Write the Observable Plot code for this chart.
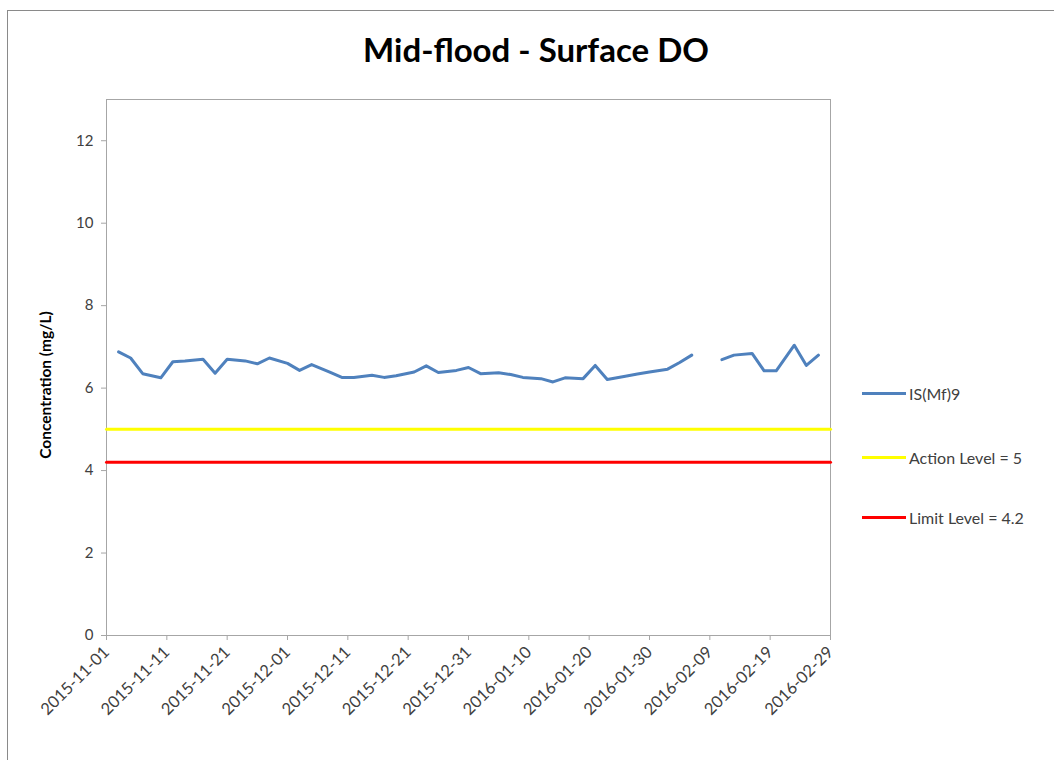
<!DOCTYPE html>
<html>
<head>
<meta charset="utf-8">
<script src="https://cdn.jsdelivr.net/npm/d3@7"></script>
<script src="https://cdn.jsdelivr.net/npm/@observablehq/plot@0.6"></script>
<style>
  html, body { margin: 0; padding: 0; background: #fff; }
  #wrap { position: relative; width: 1054px; height: 760px; overflow: hidden; font-family: Lato, "Open Sans", sans-serif; }
  #frame { position: absolute; left: 7px; top: 10px; width: 1060px; height: 800px; border: 1px solid #8a8a8a; box-sizing: border-box; }
  #title { position: absolute; left: 0; width: 1072px; top: 29px; text-align: center; font-weight: bold; font-size: 33px; color: #000; }
  #legend { position: absolute; left: 862px; top: 384px; font-size: 16px; color: #404040; }
  .item { position: absolute; left: 0; white-space: nowrap; display: flex; align-items: center; }
  .sw { width: 44px; height: 3px; margin-right: 3px; }
  #chart { position: absolute; left: 0; top: 0; }
</style>
</head>
<body>
<div id="wrap">
  <div id="frame"></div>
  <div id="chart"></div>
  <div id="title">Mid-flood - Surface DO</div>
  <div id="legend"></div>
</div>
<script>
// Sampling dates (IS(Mf)9) and surface DO values (mg/L); null = no data
const dates = [
  "2015-11-03","2015-11-05","2015-11-07","2015-11-10","2015-11-12","2015-11-14",
  "2015-11-17","2015-11-19","2015-11-21","2015-11-24","2015-11-26","2015-11-28",
  "2015-12-01","2015-12-03","2015-12-05","2015-12-08","2015-12-10","2015-12-12",
  "2015-12-15","2015-12-17","2015-12-19","2015-12-22","2015-12-24","2015-12-26",
  "2015-12-29","2015-12-31","2016-01-02","2016-01-05","2016-01-07","2016-01-09",
  "2016-01-12","2016-01-14","2016-01-16","2016-01-19","2016-01-21","2016-01-23",
  "2016-01-26","2016-01-28","2016-01-30","2016-02-02","2016-02-04","2016-02-06",
  "2016-02-09","2016-02-11","2016-02-13","2016-02-16","2016-02-18","2016-02-20",
  "2016-02-23","2016-02-25","2016-02-27"
];
const doValues = [
  6.88, 6.73, 6.35, 6.25, 6.64, 6.66,
  6.70, 6.36, 6.70, 6.66, 6.59, 6.73,
  6.60, 6.43, 6.57, 6.39, 6.26, 6.26,
  6.31, 6.26, 6.30, 6.39, 6.54, 6.38,
  6.43, 6.50, 6.35, 6.37, 6.33, 6.26,
  6.23, 6.15, 6.25, 6.23, 6.55, 6.21,
  6.29, 6.34, 6.39, 6.46, 6.62, 6.80,
  null, 6.69, 6.80, 6.84, 6.42, 6.42,
  7.04, 6.55, 6.80
];
const actionLevel = 5;
const limitLevel = 4.2;
const xTicks = ["2015-11-01","2015-11-11","2015-11-21","2015-12-01","2015-12-11","2015-12-21",
  "2015-12-31","2016-01-10","2016-01-20","2016-01-30","2016-02-09","2016-02-19","2016-02-29"];
const yTicks = [0, 2, 4, 6, 8, 10, 12];
const seriesNames = ["IS(Mf)9", "Action Level = 5", "Limit Level = 4.2"];
const seriesColors = ["#4F81BD", "#FFFF00", "#FF0000"];

const parse = d3.utcParse("%Y-%m-%d");
const rows = dates.map((d, i) => ({date: parse(d), value: doValues[i]}));
const domainX = [parse(xTicks[0]), parse(xTicks[xTicks.length - 1])];
const levels = [
  {date: domainX[0], value: actionLevel, s: 1}, {date: domainX[1], value: actionLevel, s: 1},
  {date: domainX[0], value: limitLevel, s: 2}, {date: domainX[1], value: limitLevel, s: 2}
];

const chart = Plot.plot({
  width: 1054,
  height: 760,
  marginLeft: 106,
  marginRight: 224,
  marginTop: 99,
  marginBottom: 125,
  style: {fontFamily: "Lato, 'Open Sans', sans-serif", fontSize: "15px", color: "#404040", background: "transparent"},
  x: {type: "utc", domain: domainX},
  y: {domain: [0, 13]},
  marks: [
    Plot.frame({stroke: "#a6a6a6", strokeWidth: 1}),
    Plot.line(levels.filter(d => d.s === 1), {x: "date", y: "value", stroke: seriesColors[1], strokeWidth: 3}),
    Plot.line(levels.filter(d => d.s === 2), {x: "date", y: "value", stroke: seriesColors[2], strokeWidth: 3}),
    Plot.line(rows, {x: "date", y: "value", stroke: seriesColors[0], strokeWidth: 3, curve: "linear"}),
    Plot.axisY({ticks: yTicks, tickSize: 5, tickPadding: 8, stroke: "#a6a6a6", label: null, fontSize: 15, fill: "#404040"}),
    Plot.axisX({ticks: xTicks.map(parse), tickFormat: d3.utcFormat("%Y-%m-%d"), tickSize: 5, tickPadding: 9,
      tickRotate: -45, stroke: "#a6a6a6", label: null, fontSize: 16.5, fill: "#404040"})
  ]
});
document.getElementById("chart").appendChild(chart);

// y axis title
const svg = d3.select(chart);
svg.append("text")
  .attr("transform", "translate(51,385) rotate(-90)")
  .attr("text-anchor", "middle")
  .attr("font-weight", "bold")
  .attr("font-size", "15.5px")
  .attr("fill", "#000")
  .text("Concentration (mg/L)");

// legend
const legend = document.getElementById("legend");
const legendTops = [0, 64, 124];
seriesNames.forEach((n, i) => {
  const it = document.createElement("div");
  it.className = "item";
  it.style.top = legendTops[i] + "px";
  it.innerHTML = `<span class="sw" style="background:${seriesColors[i]}"></span><span>${n}</span>`;
  legend.appendChild(it);
});
</script>
</body>
</html>
